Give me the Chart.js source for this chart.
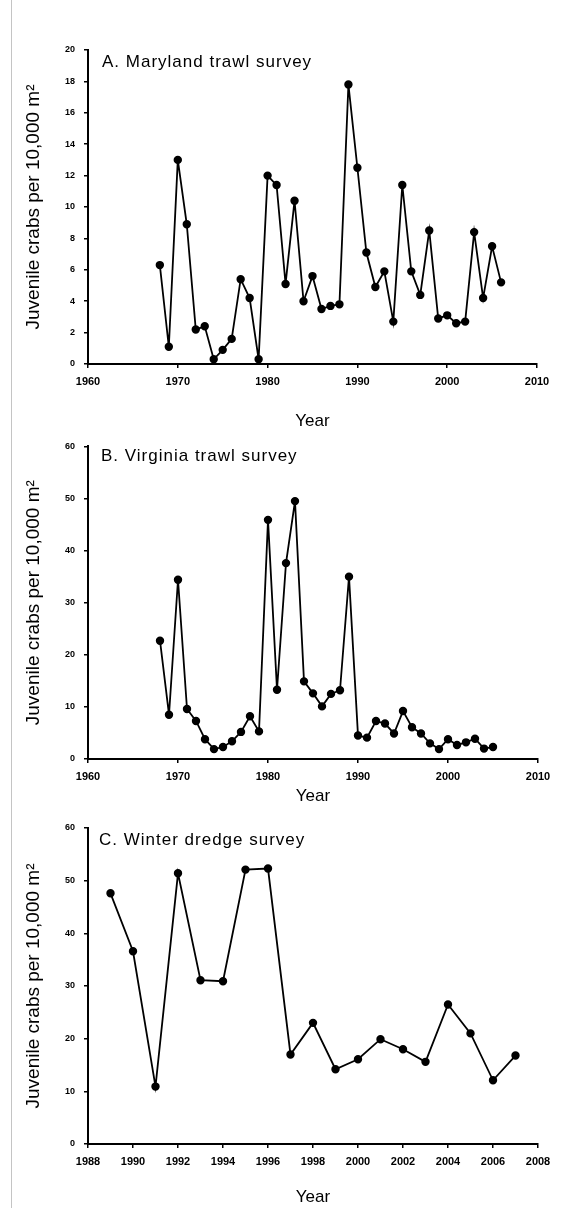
<!DOCTYPE html>
<html>
<head>
<meta charset="utf-8">
<script src="https://cdn.jsdelivr.net/npm/chart.js@4.4.1/dist/chart.umd.min.js"></script>
<style>
  html, body { margin:0; padding:0; background:#fff; }
  body { width:564px; height:1208px; position:relative; overflow:hidden; }
  .wrap { position:absolute; left:0; width:564px; }
  #vline { position:absolute; left:11px; top:0; width:1px; height:1208px; background:#c4c4c4; z-index:5; }
</style>
</head>
<body>
<div id="vline"></div>
<div class="wrap" style="top:0;height:432px"><canvas id="cA" width="564" height="432"></canvas></div>
<div class="wrap" style="top:432px;height:380px"><canvas id="cB" width="564" height="380"></canvas></div>
<div class="wrap" style="top:812px;height:396px"><canvas id="cC" width="564" height="396"></canvas></div>
<script>
// ---- Data ----
const yearsA = [1968,1969,1970,1971,1972,1973,1974,1975,1976,1977,1978,1979,1980,1981,1982,1983,1984,1985,1986,1987,1988,1989,1990,1991,1992,1993,1994,1995,1996,1997,1998,1999,2000,2001,2002,2003,2004,2005,2006];
const valuesA = [6.3,1.1,13.0,8.9,2.2,2.4,0.3,0.9,1.6,5.4,4.2,0.3,12.0,11.4,5.1,10.4,4.0,5.6,3.5,3.7,3.8,17.8,12.5,7.1,4.9,5.9,2.7,11.4,5.9,4.4,8.5,2.9,3.1,2.6,2.7,8.4,4.2,7.5,5.2];

const yearsB = [1968,1969,1970,1971,1972,1973,1974,1975,1976,1977,1978,1979,1980,1981,1982,1983,1984,1985,1986,1987,1988,1989,1990,1991,1992,1993,1994,1995,1996,1997,1998,1999,2000,2001,2002,2003,2004,2005];
const valuesB = [22.7,8.5,34.4,9.6,7.3,3.8,1.9,2.3,3.4,5.2,8.2,5.3,45.9,13.3,37.6,49.5,14.9,12.6,10.1,12.5,13.2,35.0,4.5,4.1,7.3,6.8,4.9,9.2,6.1,4.9,3.0,1.9,3.8,2.7,3.2,3.9,2.0,2.3];

const yearsC = [1989,1990,1991,1992,1993,1994,1995,1996,1997,1998,1999,2000,2001,2002,2003,2004,2005,2006,2007];
const valuesC = [47.6,36.6,10.9,51.4,31.1,30.9,52.1,52.3,17.0,23.0,14.2,16.1,19.9,18.0,15.6,26.5,21.0,12.1,16.8];

const xTicksAB = [1960,1970,1980,1990,2000,2010];
const xTicksC  = [1988,1990,1992,1994,1996,1998,2000,2002,2004,2006,2008];
const yTicksA  = [0,2,4,6,8,10,12,14,16,18,20];
const yTicksBC = [0,10,20,30,40,50,60];

const titleA = 'A. Maryland trawl survey';
const titleB = 'B. Virginia trawl survey';
const titleC = 'C. Winter dredge survey';
const yTitle = 'Juvenile crabs per 10,000 m\u00B2';
const xTitle = 'Year';

// ---- Helpers ----
const FONT = "'Liberation Sans', Arial, sans-serif";

const panelTitlePlugin = {
  id: 'panelTitle',
  afterDraw(chart, args, opts) {
    const {ctx, chartArea} = chart;
    ctx.save();
    ctx.font = '17px ' + FONT;
    if ('letterSpacing' in ctx) ctx.letterSpacing = '1px';
    ctx.fillStyle = '#000';
    ctx.textBaseline = 'middle';
    ctx.textAlign = 'left';
    ctx.fillText(opts.text, chartArea.left + opts.dx, chartArea.top + opts.dy);
    ctx.restore();
  }
};

function makeChart(id, years, values, cfg) {
  const pts = years.map((yr, i) => ({x: yr, y: values[i]}));
  return new Chart(document.getElementById(id), {
    type: 'line',
    data: { datasets: [{
      data: pts,
      borderColor: '#000',
      backgroundColor: '#000',
      borderWidth: 1.8,
      pointRadius: 3.3,
      pointStyle: 'circle',
      pointBackgroundColor: '#000',
      pointBorderColor: '#000',
      tension: 0,
      fill: false
    }]},
    options: {
      responsive: false,
      animation: false,
      events: [],
      layout: { padding: cfg.padding },
      plugins: {
        legend: { display: false },
        tooltip: { enabled: false },
        panelTitle: { text: cfg.title, dx: cfg.tdx, dy: cfg.tdy }
      },
      scales: {
        x: {
          type: 'linear',
          min: cfg.xTicks[0],
          max: cfg.xTicks[cfg.xTicks.length - 1],
          afterBuildTicks: s => { s.ticks = cfg.xTicks.map(v => ({value: v})); },
          afterFit: s => { s.height = cfg.xH; },
          ticks: {
            color: '#000',
            font: { family: FONT, size: 11, weight: 'bold' },
            padding: 7,
            maxRotation: 0,
            autoSkip: false,
            callback: v => String(v)
          },
          grid: { drawOnChartArea: false, drawTicks: true, tickLength: 4, color: '#000', lineWidth: 1.5 },
          border: { display: true, color: '#000', width: 2 },
          title: {
            display: true, text: xTitle, color: '#000',
            font: { family: FONT, size: 17 },
            padding: { top: 0, bottom: cfg.xtPad }
          }
        },
        y: {
          min: cfg.yTicks[0],
          max: cfg.yTicks[cfg.yTicks.length - 1],
          afterBuildTicks: s => { s.ticks = cfg.yTicks.map(v => ({value: v})); },
          afterFit: s => { s.width = 88 - cfg.padding.left; },
          ticks: {
            color: '#000',
            font: { family: FONT, size: 9, weight: 'bold' },
            padding: 9,
            autoSkip: false,
            callback: v => String(v)
          },
          grid: { drawOnChartArea: false, drawTicks: true, tickLength: 4, color: '#000', lineWidth: 1.5 },
          border: { display: true, color: '#000', width: 2 },
          title: {
            display: true, text: yTitle, color: '#000',
            font: { family: FONT, size: 19 },
            padding: { top: 22, bottom: 0 }
          }
        }
      }
    },
    plugins: [panelTitlePlugin]
  });
}

makeChart('cA', yearsA, valuesA, {
  padding: { top: 50, right: 27, left: 0, bottom: 0 },
  xH: 432 - 364, xtPad: 0, xTicks: xTicksAB, yTicks: yTicksA,
  title: titleA, tdx: 14, tdy: 12
});
makeChart('cB', yearsB, valuesB, {
  padding: { top: 11, right: 26, left: 0, bottom: 0 },
  xH: 380 - 327, xtPad: 5, xTicks: xTicksAB, yTicks: yTicksBC,
  title: titleB, tdx: 13, tdy: 10
});
makeChart('cC', yearsC, valuesC, {
  padding: { top: 16, right: 26, left: 0, bottom: 0 },
  xH: 396 - 332, xtPad: 0, xTicks: xTicksC, yTicks: yTicksBC,
  title: titleC, tdx: 11, tdy: 12
});
</script>
</body>
</html>
